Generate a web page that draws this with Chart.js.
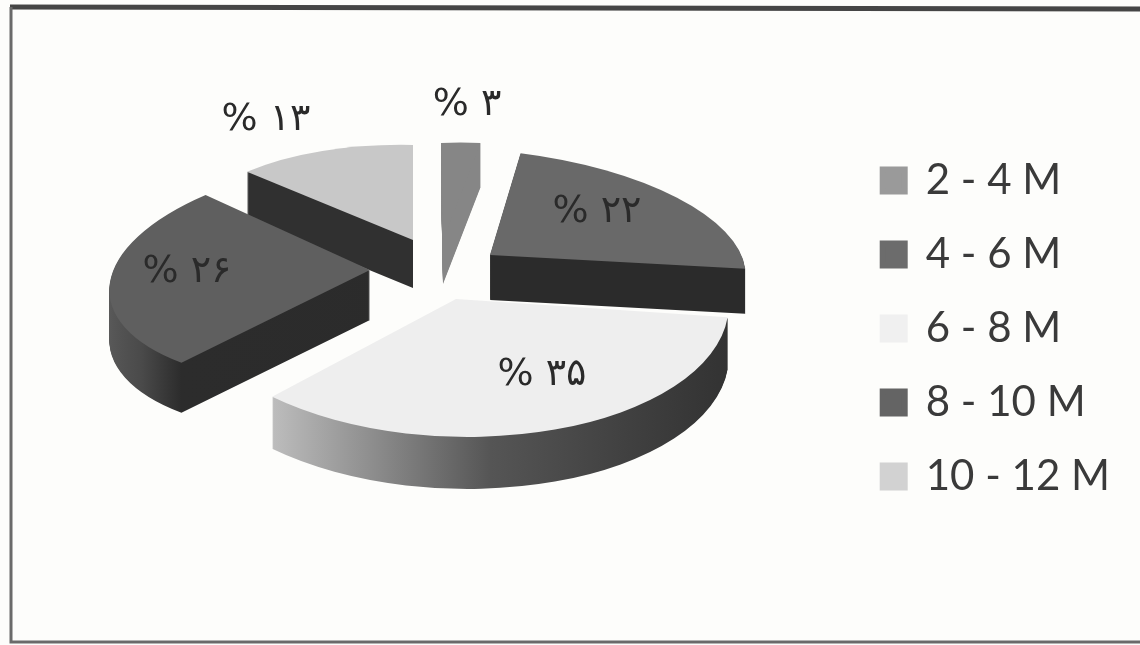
<!DOCTYPE html>
<html>
<head>
<meta charset="utf-8">
<title>Pie</title>
<script src="https://cdn.jsdelivr.net/npm/chart.js@4/dist/chart.umd.js"></script>
<style>
  html, body { margin: 0; background: #fdfdfb; }
  canvas { display: block; }
</style>
</head>
<body>
<canvas id="chart" width="1140" height="645"></canvas>
<script>
const categories = ['2 - 4 M', '4 - 6 M', '6 - 8 M', '8 - 10 M', '10 - 12 M'];
const shares = [3, 22, 35, 26, 13];
const topColors = ['#868686', '#696969', '#eeeeee', '#5f5f5f', '#c8c8c8'];
const legendColors = ['#9a9a9a', '#6c6c6c', '#f0f0f0', '#646464', '#d2d2d2'];

// Each slice sits on its own tilted plane: tip of the wedge, the two axes of
// its ellipse, how deep the wall is and where its label goes.
const tips = [[443, 240], [490, 255], [456, 299], [370, 270], [413, 240]];
const axesU = [[209, -9], [255, 12], [272, 16], [258, -4], [226, 5]];
const axesV = [[2, 97], [18, 106], [-20, 137], [-37, 115], [0, 95]];
const depths = [44, 45, 52, 50, 48];
const labelSpots = [[467, 105], [597, 212], [542, 375], [187, 272], [266, 120]];
const drawOrder = [4, 0, 3, 2, 1];

// Wall shading left to right across each wedge's own ellipse, -1 to 1 of the radius
const wallStops = [
  [[-1, '#868686'], [1, '#868686']],
  [[-1, '#2b2b2b'], [1, '#2b2b2b']],
  [[-0.62, '#bdbdbd'], [-0.25, '#8f8f8f'], [0.2, '#555555'], [1, '#333333']],
  [[-1, '#5a5a5a'], [-0.8, '#4a4a4a'], [-0.62, '#2c2c2c'], [1, '#2a2a2a']],
  [[-1, '#303030'], [1, '#303030']]
];

const persianDigits = '۰۱۲۳۴۵۶۷۸۹';

function toPersian(n) {
  return String(n).replace(/\d/g, d => persianDigits[d]);
}

// Paints one arc element in the given colour, leaving its options untouched
function paintArc(ctx, arc, color) {
  const saved = arc.options;
  arc.options = { ...saved, backgroundColor: color };
  arc.draw(ctx);
  arc.options = saved;
}

function wallGradient(ctx, arc, stops) {
  const R = arc.outerRadius;
  const first = stops[0][0];
  const last = stops[stops.length - 1][0];
  const g = ctx.createLinearGradient(arc.x + first * R, 0, arc.x + last * R, 0);
  stops.forEach(([at, color]) => g.addColorStop((at - first) / (last - first), color));
  return g;
}

const tiltedPie = {
  id: 'tiltedPie',
  beforeDraw(chart) {
    const ctx = chart.ctx;
    ctx.save();
    ctx.fillStyle = '#fdfdfb';
    ctx.fillRect(0, 0, chart.width, chart.height);

    // frame: open on the right, heavier along the top
    ctx.strokeStyle = '#454545';
    ctx.lineWidth = 5;
    ctx.beginPath();
    ctx.moveTo(chart.width, 9);
    ctx.lineTo(10, 7);
    ctx.stroke();
    ctx.lineWidth = 3;
    ctx.strokeStyle = '#6a6a6a';
    ctx.beginPath();
    ctx.moveTo(11, 7);
    ctx.lineTo(11, 642);
    ctx.lineTo(chart.width, 642);
    ctx.stroke();
    ctx.restore();
  },
  // the stock flat arcs are replaced by the tilted ones below
  beforeDatasetDraw() {
    return false;
  },
  afterDatasetsDraw(chart) {
    const ctx = chart.ctx;
    const arcs = chart.getDatasetMeta(0).data;

    drawOrder.forEach(i => {
      const arc = arcs[i];
      const R = arc.outerRadius;
      const a = axesU[i][0] / R, b = axesU[i][1] / R;
      const c = axesV[i][0] / R, d = axesV[i][1] / R;
      const e = tips[i][0] - (a * arc.x + c * arc.y);
      const f = tips[i][1] - (b * arc.x + d * arc.y);
      const wall = wallGradient(ctx, arc, wallStops[i]);

      // wall: the same wedge stacked downward, then the top face over it
      for (let y = depths[i]; y >= 1; y--) {
        ctx.save();
        ctx.transform(a, b, c, d, e, f + y);
        paintArc(ctx, arc, wall);
        ctx.restore();
      }
      ctx.save();
      ctx.transform(a, b, c, d, e, f);
      paintArc(ctx, arc, topColors[i]);
      ctx.restore();
    });

    ctx.save();
    ctx.font = '38px "DejaVu Sans"';
    ctx.fillStyle = '#2a2a2a';
    ctx.textAlign = 'center';
    ctx.textBaseline = 'middle';
    shares.forEach((v, i) => {
      ctx.fillText('% ' + toPersian(v), labelSpots[i][0], labelSpots[i][1]);
    });
    ctx.restore();
  }
};

new Chart(document.getElementById('chart'), {
  type: 'pie',
  data: {
    labels: categories,
    datasets: [{ data: shares, backgroundColor: topColors, borderWidth: 0 }]
  },
  plugins: [tiltedPie],
  options: {
    responsive: false,
    animation: false,
    layout: { padding: { right: 20, top: 12 } },
    plugins: {
      tooltip: { enabled: false },
      legend: {
        position: 'right',
        labels: {
          color: '#3a3a3a',
          font: { family: 'Lato', size: 42 },
          boxWidth: 22,
          boxHeight: 22,
          padding: 32,
          // thick border in the fill colour makes a larger swatch
          generateLabels(chart) {
            const items = Chart.overrides.pie.plugins.legend.labels.generateLabels(chart);
            return items.map((item, i) => ({
              ...item,
              fillStyle: legendColors[i],
              strokeStyle: legendColors[i],
              lineWidth: 6
            }));
          }
        }
      }
    }
  }
});
</script>
</body>
</html>
